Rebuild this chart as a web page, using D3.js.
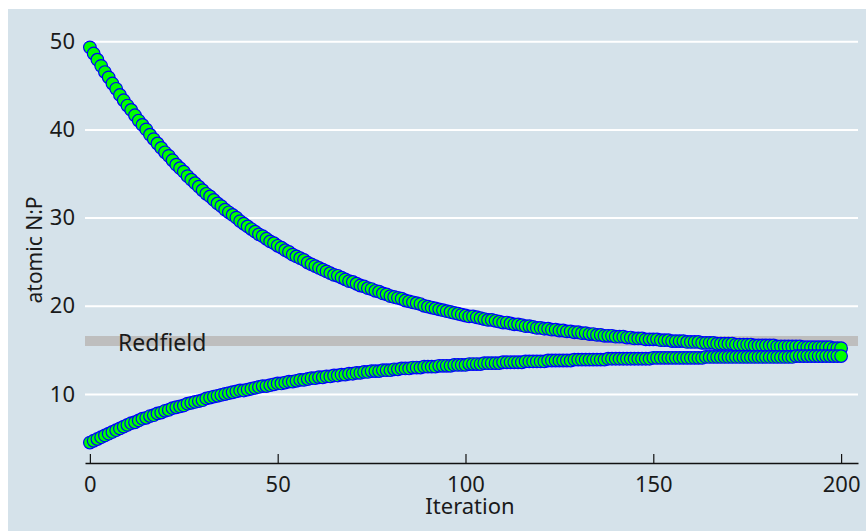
<!DOCTYPE html>
<html>
<head>
<meta charset="utf-8">
<script src="https://cdn.jsdelivr.net/npm/d3@7"></script>
<style>
body { margin:0; background:white; }
text { font-family:"Noto Sans", "DejaVu Sans", sans-serif; fill:#1a1a1a; }
.axis text { font-size:22px; }
</style>
</head>
<body>
<svg id="chart"></svg>
<script>
// N:P ratio per iteration
var upperNP = [
49.3,48.6,47.9,47.2,46.5,45.9,45.2,44.6,43.9,43.3,
42.7,42.2,41.6,41.0,40.5,40.0,39.4,38.9,38.4,37.9,
37.4,37.0,36.5,36.0,35.6,35.2,34.7,34.3,33.9,33.5,
33.1,32.7,32.4,32.0,31.6,31.3,30.9,30.6,30.3,30.0,
29.6,29.3,29.0,28.7,28.4,28.1,27.9,27.6,27.3,27.1,
26.8,26.6,26.3,26.1,25.8,25.6,25.4,25.2,24.9,24.7,
24.5,24.3,24.1,23.9,23.7,23.5,23.4,23.2,23.0,22.8,
22.7,22.5,22.3,22.2,22.0,21.9,21.7,21.6,21.4,21.3,
21.1,21.0,20.9,20.8,20.6,20.5,20.4,20.3,20.2,20.0,
19.9,19.8,19.7,19.6,19.5,19.4,19.3,19.2,19.1,19.0,
18.9,18.8,18.8,18.7,18.6,18.5,18.4,18.4,18.3,18.2,
18.1,18.1,18.0,17.9,17.9,17.8,17.7,17.7,17.6,17.5,
17.5,17.4,17.4,17.3,17.3,17.2,17.2,17.1,17.1,17.0,
17.0,16.9,16.9,16.8,16.8,16.7,16.7,16.6,16.6,16.6,
16.5,16.5,16.5,16.4,16.4,16.3,16.3,16.3,16.2,16.2,
16.2,16.2,16.1,16.1,16.1,16.0,16.0,16.0,16.0,15.9,
15.9,15.9,15.9,15.8,15.8,15.8,15.8,15.7,15.7,15.7,
15.7,15.7,15.6,15.6,15.6,15.6,15.6,15.5,15.5,15.5,
15.5,15.5,15.5,15.4,15.4,15.4,15.4,15.4,15.4,15.4,
15.3,15.3,15.3,15.3,15.3,15.3,15.3,15.3,15.2,15.2,
15.2]

var lowerNP = [
4.5,4.7,4.9,5.1,5.3,5.5,5.7,5.9,6.1,6.3,
6.5,6.7,6.8,7.0,7.2,7.3,7.5,7.6,7.8,7.9,
8.1,8.2,8.4,8.5,8.6,8.7,8.9,9.0,9.1,9.2,
9.3,9.5,9.6,9.7,9.8,9.9,10.0,10.1,10.2,10.3,
10.4,10.4,10.5,10.6,10.7,10.8,10.9,10.9,11.0,11.1,
11.2,11.2,11.3,11.4,11.4,11.5,11.6,11.6,11.7,11.8,
11.8,11.9,11.9,12.0,12.0,12.1,12.1,12.2,12.2,12.3,
12.3,12.4,12.4,12.5,12.5,12.6,12.6,12.6,12.7,12.7,
12.7,12.8,12.8,12.9,12.9,12.9,13.0,13.0,13.0,13.1,
13.1,13.1,13.1,13.2,13.2,13.2,13.2,13.3,13.3,13.3,
13.3,13.4,13.4,13.4,13.4,13.5,13.5,13.5,13.5,13.5,
13.6,13.6,13.6,13.6,13.6,13.6,13.7,13.7,13.7,13.7,
13.7,13.7,13.8,13.8,13.8,13.8,13.8,13.8,13.8,13.9,
13.9,13.9,13.9,13.9,13.9,13.9,13.9,13.9,14.0,14.0,
14.0,14.0,14.0,14.0,14.0,14.0,14.0,14.0,14.0,14.0,
14.1,14.1,14.1,14.1,14.1,14.1,14.1,14.1,14.1,14.1,
14.1,14.1,14.1,14.1,14.2,14.2,14.2,14.2,14.2,14.2,
14.2,14.2,14.2,14.2,14.2,14.2,14.2,14.2,14.2,14.2,
14.2,14.2,14.2,14.2,14.2,14.2,14.2,14.2,14.3,14.3,
14.3,14.3,14.3,14.3,14.3,14.3,14.3,14.3,14.3,14.3,
14.3]

var redfield = 16
var xTicks = [0,50,100,150,200]
var yTicks = [10,20,30,40,50]

var screen = {width:866,height:531}
var plot = {left:85,right:858,top:20,bottom:463}

var svg = d3.select("#chart")
    .attr("width",screen.width)
    .attr("height",screen.height)

svg.append("rect")
    .attr("x",8)
    .attr("y",9)
    .attr("width",screen.width-8)
    .attr("height",screen.height-9)
    .attr("fill","#d5e2ea")

var xScale = d3.scaleLinear()
    .domain([-1.3,204.5])
    .range([plot.left,plot.right])

var yScale = d3.scaleLinear()
    .domain([2.18,52.4])
    .range([plot.bottom,plot.top])

// white gridlines + y labels
var yAxis = d3.axisLeft(yScale)
    .tickValues(yTicks)
    .tickSize(-(plot.right-plot.left))
    .tickPadding(10)
    .tickFormat(d3.format("d"))

var gy = svg.append("g")
    .attr("class","axis")
    .attr("transform","translate("+plot.left+",0)")
    .call(yAxis)
gy.select(".domain").remove()
gy.selectAll("line").attr("stroke","white").attr("stroke-width",2)
gy.selectAll("text").attr("fill","#1a1a1a")

// Redfield ratio band
svg.append("line")
    .attr("x1",plot.left)
    .attr("x2",plot.right)
    .attr("y1",yScale(redfield))
    .attr("y2",yScale(redfield))
    .attr("stroke","#bebebe")
    .attr("stroke-width",10)

svg.append("text")
    .text("Redfield")
    .attr("x",118)
    .attr("y",yScale(redfield)+10)
    .style("font-size","23px")

var xAxis = d3.axisBottom(xScale)
    .tickValues(xTicks)
    .tickSizeInner(-9)
    .tickSizeOuter(0)
    .tickPadding(13)

var gx = svg.append("g")
    .attr("class","axis")
    .attr("transform","translate(0,"+plot.bottom+")")
    .call(xAxis)
gx.select(".domain").attr("stroke","#111").attr("stroke-width",1.5)
gx.selectAll("line").attr("stroke","#111").attr("stroke-width",1.2)
gx.selectAll("text").attr("fill","#1a1a1a")

var drawSeries = function(values)
{
    svg.append("g")
    .selectAll("circle")
    .data(values)
    .enter()
    .append("circle")
    .attr("cx",function(d,i) { return xScale(i); })
    .attr("cy",function(d) { return yScale(d); })
    .attr("r",6.3)
    .attr("fill","#00ff00")
    .attr("stroke","#0000ff")
    .attr("stroke-width",1.2)
}
drawSeries(upperNP)
drawSeries(lowerNP)

svg.append("text")
    .text("Iteration")
    .attr("text-anchor","middle")
    .attr("x",470)
    .attr("y",514)
    .style("font-size","22px")

svg.append("text")
    .text("atomic N:P")
    .attr("text-anchor","middle")
    .attr("transform","translate(42,250) rotate(-90)")
    .style("font-size","21px")
</script>
</body>
</html>
